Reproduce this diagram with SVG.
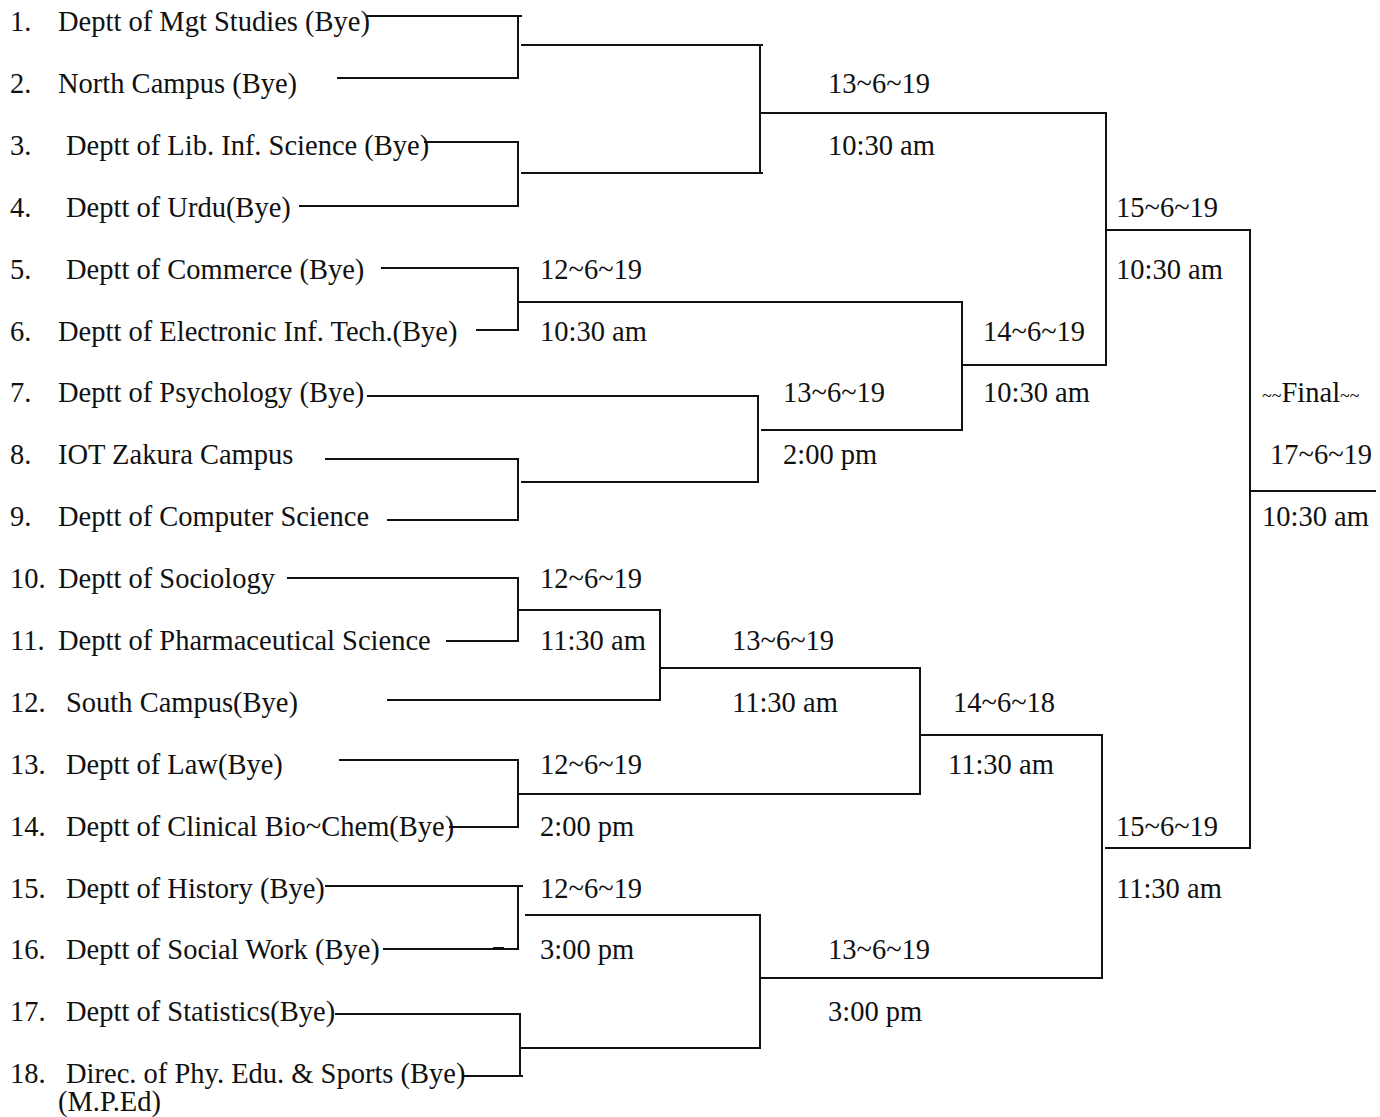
<svg xmlns="http://www.w3.org/2000/svg" width="1380" height="1117" viewBox="0 0 1380 1117">
<style>
text{font-family:"Liberation Serif","Times New Roman",serif;font-size:28.5px;fill:#111}
.t{font-size:18px}
.c line{stroke:#111;stroke-width:2;stroke-linecap:square}
</style>
<rect width="1380" height="1117" fill="#fff"/>
<g id="teams">
<g id="t1"><text x="10" y="31">1.<tspan x="58">Deptt of Mgt Studies (Bye)</tspan></text></g>
<g id="t2"><text x="10" y="93">2.<tspan x="58">North Campus  (Bye)</tspan></text></g>
<g id="t3"><text x="10" y="155">3.<tspan x="66">Deptt of Lib. Inf. Science (Bye)</tspan></text></g>
<g id="t4"><text x="10" y="217">4.<tspan x="66">Deptt of Urdu(Bye)</tspan></text></g>
<g id="t5"><text x="10" y="279">5.<tspan x="66">Deptt of Commerce (Bye)</tspan></text></g>
<g id="t6"><text x="10" y="341">6.<tspan x="58">Deptt of Electronic Inf. Tech.(Bye)</tspan></text></g>
<g id="t7"><text x="10" y="402">7.<tspan x="58">Deptt of Psychology (Bye)</tspan></text></g>
<g id="t8"><text x="10" y="464">8.<tspan x="58">IOT Zakura Campus</tspan></text></g>
<g id="t9"><text x="10" y="526">9.<tspan x="58">Deptt of Computer Science</tspan></text></g>
<g id="t10"><text x="10" y="588">10.<tspan x="58">Deptt of Sociology</tspan></text></g>
<g id="t11"><text x="10" y="650">11.<tspan x="58">Deptt of Pharmaceutical Science</tspan></text></g>
<g id="t12"><text x="10" y="712">12.<tspan x="66">South Campus(Bye)</tspan></text></g>
<g id="t13"><text x="10" y="774">13.<tspan x="66">Deptt of Law(Bye)</tspan></text></g>
<g id="t14"><text x="10" y="836">14.<tspan x="66">Deptt of Clinical Bio~Chem(Bye)</tspan></text></g>
<g id="t15"><text x="10" y="898">15.<tspan x="66">Deptt of History (Bye)</tspan></text></g>
<g id="t16"><text x="10" y="959">16.<tspan x="66">Deptt of Social Work (Bye)</tspan></text></g>
<g id="t17"><text x="10" y="1021">17.<tspan x="66">Deptt of Statistics(Bye)</tspan></text></g>
<g id="t18"><text x="10" y="1083">18.<tspan x="66">Direc. of Phy. Edu. &amp; Sports (Bye)</tspan><tspan x="58" y="1111">(M.P.Ed)</tspan></text></g>
</g>
<g id="labels">
<g id="m1"><text x="828" y="93">13~6~19</text><text x="828" y="155">10:30 am</text></g>
<g id="m2"><text x="1116" y="217">15~6~19</text><text x="1116" y="279">10:30 am</text></g>
<g id="m3"><text x="540" y="279">12~6~19</text><text x="540" y="341">10:30 am</text></g>
<g id="m4"><text x="983" y="341">14~6~19</text><text x="983" y="402">10:30 am</text></g>
<g id="m5"><text x="783" y="402">13~6~19</text><text x="783" y="464">2:00 pm</text></g>
<g id="final"><text x="1262" y="402"><tspan class="t">~~</tspan>Final<tspan class="t">~~</tspan></text><text x="1270" y="464">17~6~19</text><text x="1262" y="526">10:30 am</text></g>
<g id="m6"><text x="540" y="588">12~6~19</text><text x="540" y="650">11:30 am</text></g>
<g id="m7"><text x="732" y="650">13~6~19</text><text x="732" y="712">11:30 am</text></g>
<g id="m8"><text x="953" y="712">14~6~18</text><text x="948" y="774">11:30 am</text></g>
<g id="m9"><text x="540" y="774">12~6~19</text><text x="540" y="836">2:00 pm</text></g>
<g id="m10"><text x="1116" y="836">15~6~19</text><text x="1116" y="898">11:30 am</text></g>
<g id="m11"><text x="540" y="898">12~6~19</text><text x="540" y="959">3:00 pm</text></g>
<g id="m12"><text x="828" y="959">13~6~19</text><text x="828" y="1021">3:00 pm</text></g>
</g>
<g id="connectors" class="c">
<line x1="368" y1="16" x2="521" y2="16"/>
<line x1="338" y1="78" x2="518" y2="78"/>
<line x1="518" y1="16" x2="518" y2="78"/>
<line x1="522" y1="45" x2="762" y2="45"/>
<line x1="425" y1="142" x2="518" y2="142"/>
<line x1="300" y1="206" x2="518" y2="206"/>
<line x1="518" y1="142" x2="518" y2="206"/>
<line x1="522" y1="173" x2="762" y2="173"/>
<line x1="760" y1="45" x2="760" y2="173"/>
<line x1="760" y1="113" x2="1106" y2="113"/>
<line x1="1106" y1="113" x2="1106" y2="365"/>
<line x1="1106" y1="230" x2="1250" y2="230"/>
<line x1="1250" y1="230" x2="1250" y2="848"/>
<line x1="1250" y1="491" x2="1375" y2="491"/>
<line x1="382" y1="268" x2="518" y2="268"/>
<line x1="477" y1="330" x2="518" y2="330"/>
<line x1="518" y1="268" x2="518" y2="330"/>
<line x1="518" y1="302" x2="962" y2="302"/>
<line x1="368" y1="396" x2="758" y2="396"/>
<line x1="758" y1="396" x2="758" y2="482"/>
<line x1="326" y1="459" x2="518" y2="459"/>
<line x1="388" y1="520" x2="518" y2="520"/>
<line x1="518" y1="459" x2="518" y2="520"/>
<line x1="522" y1="482" x2="758" y2="482"/>
<line x1="762" y1="430" x2="962" y2="430"/>
<line x1="962" y1="302" x2="962" y2="430"/>
<line x1="962" y1="365" x2="1106" y2="365"/>
<line x1="288" y1="578" x2="518" y2="578"/>
<line x1="447" y1="641" x2="518" y2="641"/>
<line x1="518" y1="578" x2="518" y2="641"/>
<line x1="518" y1="610" x2="660" y2="610"/>
<line x1="388" y1="700" x2="660" y2="700"/>
<line x1="660" y1="610" x2="660" y2="700"/>
<line x1="660" y1="668" x2="920" y2="668"/>
<line x1="340" y1="760" x2="518" y2="760"/>
<line x1="450" y1="827" x2="518" y2="827"/>
<line x1="518" y1="760" x2="518" y2="827"/>
<line x1="520" y1="794" x2="920" y2="794"/>
<line x1="920" y1="668" x2="920" y2="794"/>
<line x1="920" y1="735" x2="1102" y2="735"/>
<line x1="1102" y1="735" x2="1102" y2="978"/>
<line x1="1106" y1="848" x2="1250" y2="848"/>
<line x1="326" y1="886" x2="522" y2="886"/>
<line x1="384" y1="949" x2="518" y2="949"/>
<line x1="494" y1="948" x2="503" y2="948"/>
<line x1="518" y1="886" x2="518" y2="949"/>
<line x1="526" y1="915" x2="760" y2="915"/>
<line x1="760" y1="915" x2="760" y2="1048"/>
<line x1="760" y1="978" x2="1102" y2="978"/>
<line x1="336" y1="1014" x2="520" y2="1014"/>
<line x1="464" y1="1076" x2="522" y2="1076"/>
<line x1="520" y1="1014" x2="520" y2="1076"/>
<line x1="522" y1="1048" x2="760" y2="1048"/>
</g>
</svg>
